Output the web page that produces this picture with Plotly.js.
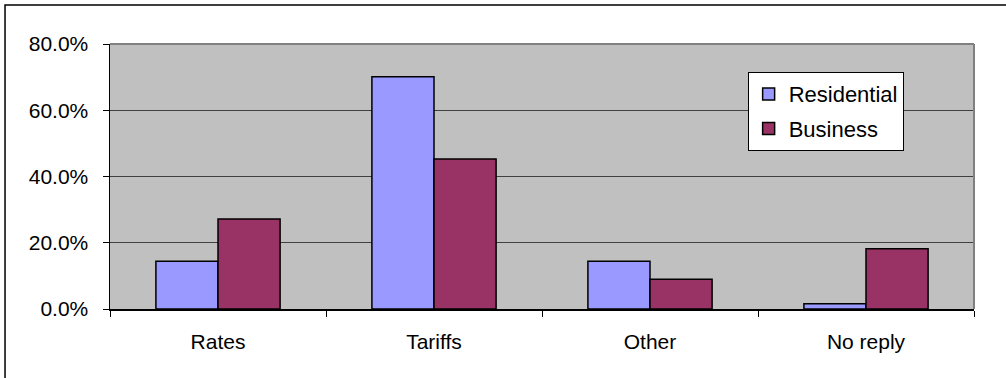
<!DOCTYPE html>
<html>
<head>
<meta charset="utf-8">
<script src="https://cdn.plot.ly/plotly-3.0.1.min.js"></script>
<style>
  html, body { margin: 0; padding: 0; background: #ffffff; }
  #chart { width: 1006px; height: 378px; }
</style>
</head>
<body>
<div id="chart"></div>
<script>
// Survey answers by respondent type (share of replies, %)
const categories = ['Rates', 'Tariffs', 'Other', 'No reply'];
const residential = [14.4, 70.1, 14.4, 1.6];
const business = [27.2, 45.3, 9.0, 18.2];
const yTickValues = [0, 20, 40, 60, 80];
const yTickLabels = ['0.0%', '20.0%', '40.0%', '60.0%', '80.0%'];

const FONT = 'Liberation Sans, Arial, sans-serif';

const traces = [
  {
    type: 'bar',
    name: 'Residential',
    x: categories,
    y: residential,
    legendgroup: 'r',
    marker: { color: '#9999FF', line: { color: '#000000', width: 1.5 } },
    hoverinfo: 'skip'
  },
  {
    type: 'bar',
    name: 'Business',
    x: categories,
    y: business,
    legendgroup: 'b',
    marker: { color: '#993366', line: { color: '#000000', width: 1.5 } },
    hoverinfo: 'skip'
  }
];

const layout = {
  width: 1006,
  height: 378,
  margin: { l: 110, r: 32, t: 44, b: 69 },
  paper_bgcolor: '#ffffff',
  plot_bgcolor: '#C0C0C0',
  font: { family: FONT, size: 21, color: '#000000' },
  barmode: 'group',
  bargap: 0.425,
  bargroupgap: 0,
  showlegend: true,
  legend: {
    x: 0.738,
    y: 0.894,
    xanchor: 'left',
    yanchor: 'top',
    bgcolor: '#ffffff',
    bordercolor: '#000000',
    borderwidth: 1,
    font: { family: FONT, size: 22, color: '#000000' },
    traceorder: 'grouped',
    tracegroupgap: 3,
    itemwidth: 30
  },
  xaxis: {
    type: 'category',
    showline: true,
    linecolor: '#000000',
    linewidth: 1.5,
    ticks: 'outside',
    tickson: 'boundaries',
    ticklen: 6,
    tickcolor: '#000000',
    tickwidth: 1,
    ticklabelstandoff: 13,
    showgrid: false,
    zeroline: false,
    fixedrange: true,
    tickfont: { family: FONT, size: 21, color: '#000000' }
  },
  yaxis: {
    range: [0, 80],
    tickvals: yTickValues,
    ticktext: yTickLabels,
    showline: true,
    linecolor: '#000000',
    linewidth: 1.5,
    ticks: 'outside',
    ticklen: 6,
    tickcolor: '#000000',
    tickwidth: 1,
    ticklabelstandoff: 10,
    showgrid: true,
    gridcolor: '#404040',
    gridwidth: 1,
    zeroline: false,
    fixedrange: true,
    tickfont: { family: FONT, size: 21, color: '#000000' }
  },
  shapes: [
    // plot-area frame on the top and right edges
    { type: 'line', xref: 'paper', yref: 'paper', x0: 0, x1: 1, y0: 1, y1: 1,
      line: { color: '#808080', width: 2 } },
    { type: 'line', xref: 'paper', yref: 'paper', x0: 1, x1: 1, y0: 0, y1: 1,
      line: { color: '#808080', width: 2 } },
    // outer chart border
    { type: 'rect', xref: 'paper', yref: 'paper',
      x0: -0.1215, x1: 1.05, y0: 1.147, y1: -0.3,
      line: { color: '#000000', width: 1.5 }, fillcolor: 'rgba(0,0,0,0)' }
  ]
};

Plotly.newPlot('chart', traces, layout, { staticPlot: true, displayModeBar: false });
</script>
</body>
</html>
